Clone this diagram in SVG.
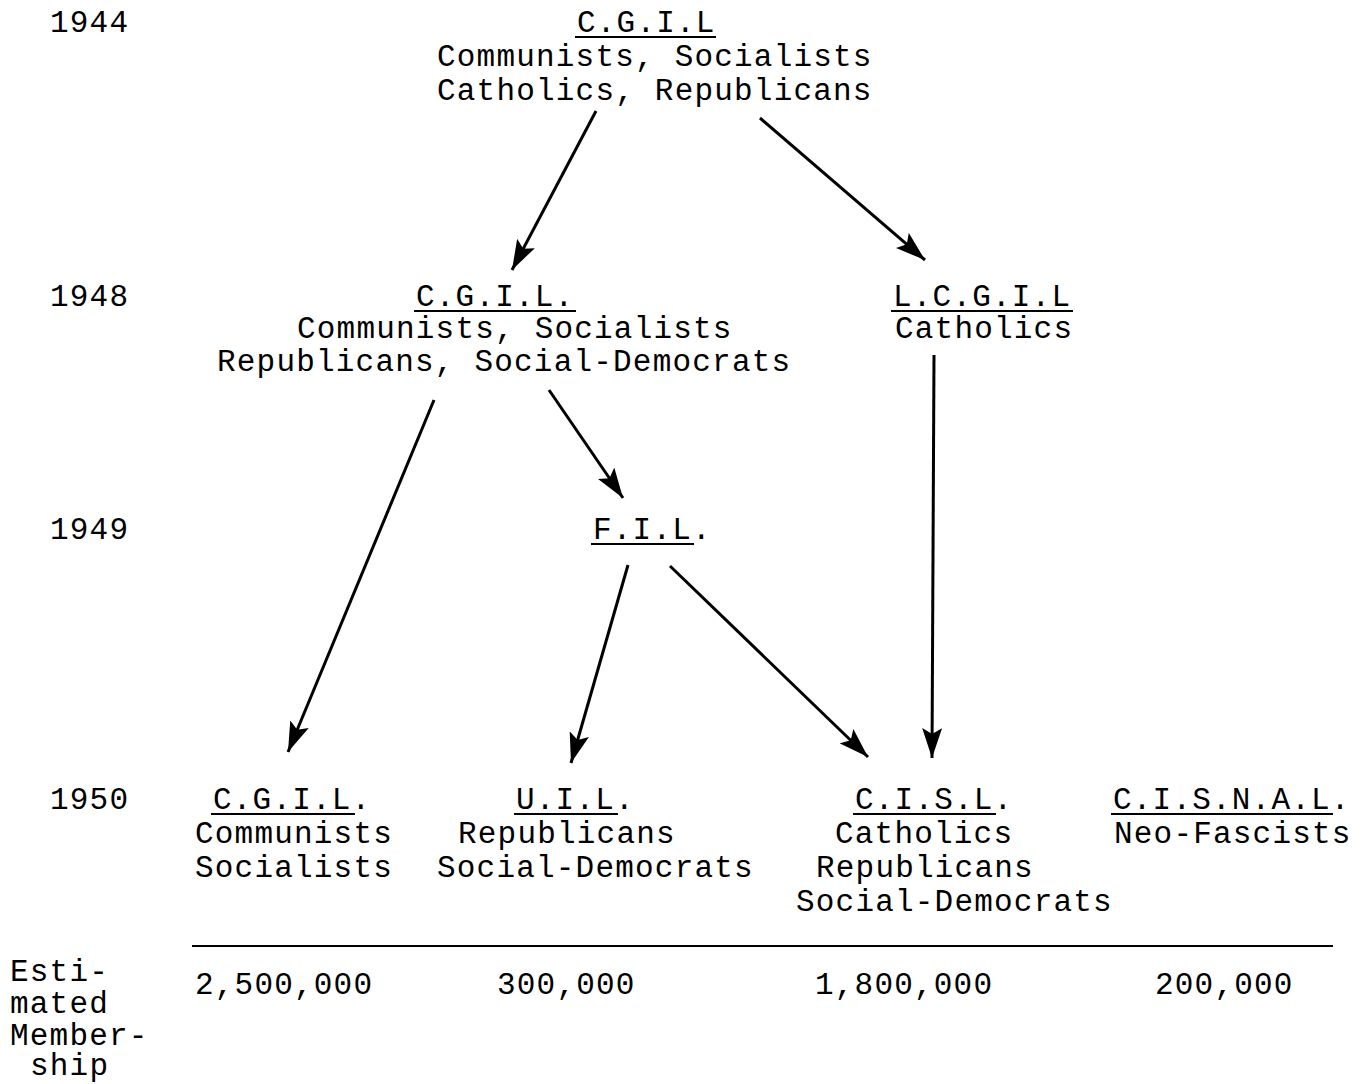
<svg xmlns="http://www.w3.org/2000/svg" width="1364" height="1084" viewBox="0 0 1364 1084">
<style>
text{font-family:"Liberation Mono","Courier New",monospace;font-size:31px;letter-spacing:1.2px;fill:#000}
.u{stroke:#000;stroke-width:2}
.c{stroke:#000;stroke-width:3;fill:none;marker-end:url(#ah)}
</style>
<defs>
<marker id="ah" markerUnits="userSpaceOnUse" viewBox="0 0 30 20" refX="30" refY="10" markerWidth="30" markerHeight="20" orient="auto">
<path d="M0,0 L30,10 L0,20 L6,10 Z" fill="#000"/>
</marker>
</defs>
<rect width="1364" height="1084" fill="#fff"/>
<g id="years">
<text x="50" y="32">1944</text>
<text x="50" y="306">1948</text>
<text x="50" y="539">1949</text>
<text x="50" y="809">1950</text>
</g>
<g id="cgil1944">
<text x="577" y="32">C.G.I.L</text>
<line class="u" x1="575" y1="37" x2="716" y2="37"/>
<text x="437" y="66">Communists, Socialists</text>
<text x="437" y="100">Catholics, Republicans</text>
</g>
<g id="cgil1948">
<text x="416" y="306">C.G.I.L.</text>
<line class="u" x1="414" y1="311" x2="576" y2="311"/>
<text x="297" y="338">Communists, Socialists</text>
<text x="217" y="371">Republicans, Social-Democrats</text>
</g>
<g id="lcgil1948">
<text x="893" y="306">L.C.G.I.L</text>
<line class="u" x1="891" y1="311" x2="1073" y2="311"/>
<text x="895" y="338">Catholics</text>
</g>
<g id="fil1949">
<text x="593" y="539">F.I.L.</text>
<line class="u" x1="591" y1="544" x2="694" y2="544"/>
</g>
<g id="cgil1950">
<text x="213" y="809">C.G.I.L.</text>
<line class="u" x1="211" y1="814" x2="355" y2="814"/>
<text x="195" y="843">Communists</text>
<text x="195" y="877">Socialists</text>
</g>
<g id="uil1950">
<text x="516" y="809">U.I.L.</text>
<line class="u" x1="514" y1="814" x2="618" y2="814"/>
<text x="458" y="843">Republicans</text>
<text x="437" y="877">Social-Democrats</text>
</g>
<g id="cisl1950">
<text x="855" y="809">C.I.S.L.</text>
<line class="u" x1="853" y1="814" x2="996" y2="814"/>
<text x="835" y="843">Catholics</text>
<text x="816" y="877">Republicans</text>
<text x="796" y="911">Social-Democrats</text>
</g>
<g id="cisnal1950">
<text x="1113" y="809">C.I.S.N.A.L.</text>
<line class="u" x1="1111" y1="814" x2="1333" y2="814"/>
<text x="1114" y="843">Neo-Fascists</text>
</g>
<g id="membership">
<line class="u" x1="192" y1="946" x2="1333" y2="946"/>
<text x="10" y="981">Esti-</text>
<text x="10" y="1013">mated</text>
<text x="10" y="1045">Member-</text>
<text x="30" y="1075">ship</text>
<text x="195" y="994">2,500,000</text>
<text x="497" y="994">300,000</text>
<text x="815" y="994">1,800,000</text>
<text x="1155" y="994">200,000</text>
</g>
<g id="connectors">
<line class="c" x1="596" y1="111" x2="512" y2="270"/>
<line class="c" x1="760" y1="118" x2="925" y2="260"/>
<line class="c" x1="434" y1="400" x2="288" y2="752"/>
<line class="c" x1="549" y1="390" x2="623" y2="498"/>
<line class="c" x1="934" y1="355" x2="932" y2="758"/>
<line class="c" x1="628" y1="565" x2="571" y2="763"/>
<line class="c" x1="670" y1="566" x2="868" y2="757"/>
</g>
</svg>
